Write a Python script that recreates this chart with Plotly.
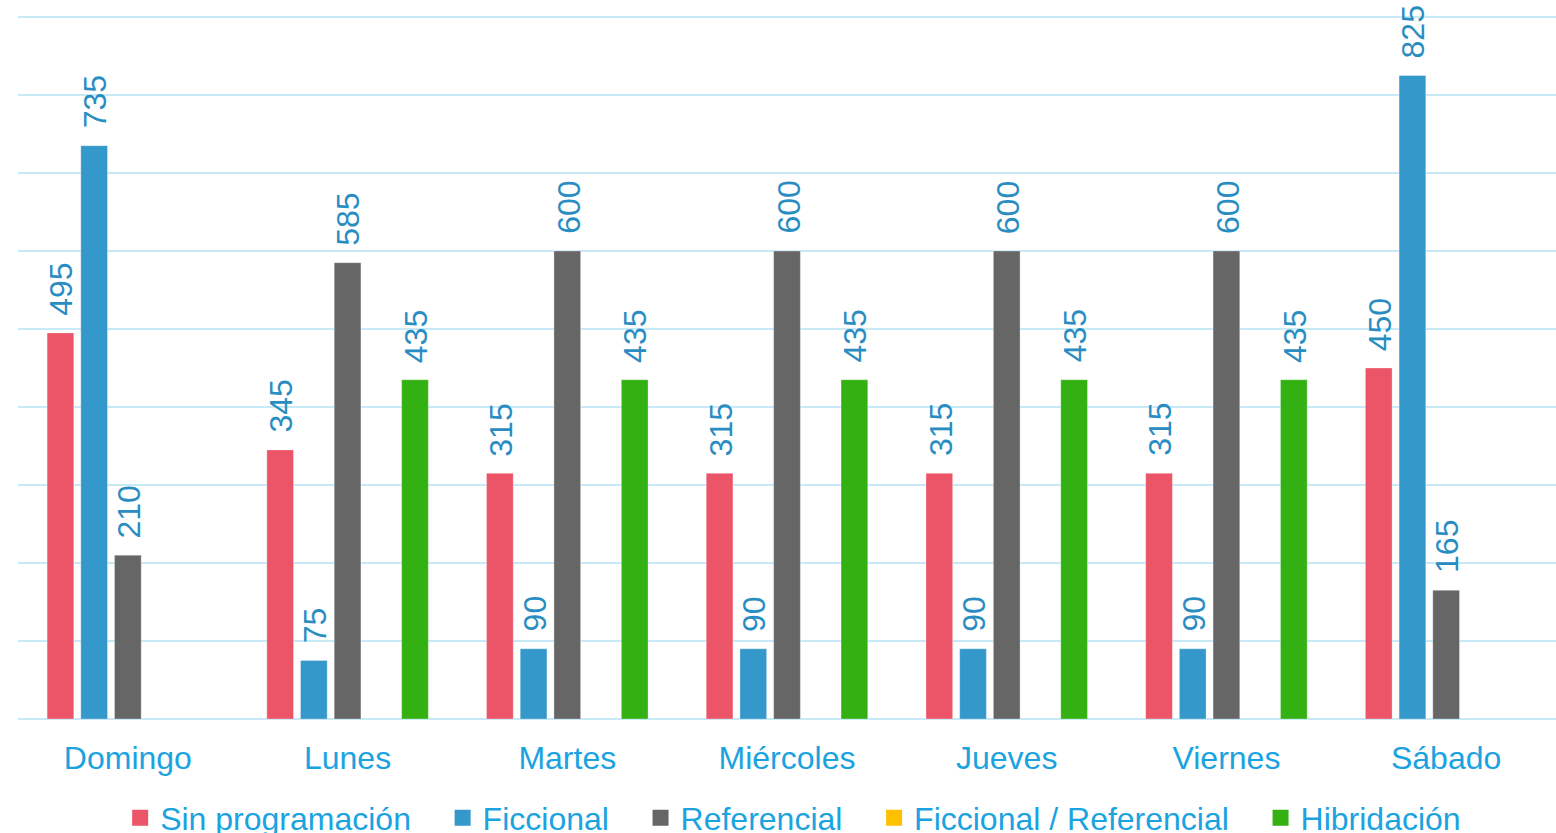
import plotly.graph_objects as go

days = ["Domingo", "Lunes", "Martes", "Miércoles", "Jueves", "Viernes", "Sábado"]
series_names = ["Sin programación", "Ficcional", "Referencial", "Ficcional / Referencial", "Hibridación"]
sin_programacion = [495, 345, 315, 315, 315, 315, 450]
ficcional = [735, 75, 90, 90, 90, 90, 825]
referencial = [210, 585, 600, 600, 600, 600, 165]
ficcional_referencial = [None, None, None, None, None, None, None]
hibridacion = [None, 435, 435, 435, 435, 435, None]

values = [sin_programacion, ficcional, referencial, ficcional_referencial, hibridacion]
colors = ["#EC5568", "#3498CB", "#666666", "#FFC000", "#33B012"]

FONT = "Liberation Sans, Arial, sans-serif"
LABEL_COLOR = "#2A8DC2"
TICK_COLOR = "#1AA3E0"
GRID_COLOR = "#C8EAF8"

W, H = 1556, 833
ML, MR, MT, MB = 18, 0, 9, 114
PX_PER_UNIT = 0.78
Y_TOP = (H - MT - MB) / PX_PER_UNIT
BARGAP, BARGROUPGAP = 0.233, 0.208

fig = go.Figure()
for name, vals, col in zip(series_names, values, colors):
    fig.add_trace(go.Bar(
        x=days, y=vals, name=name,
        marker=dict(color=col, line=dict(width=1, color="rgba(255,255,255,0.3)")),
        showlegend=False,
    ))
for i, name, col in zip(range(len(series_names)), series_names, colors):
    label = name + ("\u00a0\u00a0\u00a0" if i < len(series_names) - 1 else "")
    fig.add_trace(go.Scatter(
        x=[None], y=[None], mode="markers", name=label,
        marker=dict(symbol="square", size=16, color=col),
        showlegend=True,
    ))

# value labels above bars (rotated), shifted to each bar's slot in the group
cat_w = (W - ML - MR) / len(days)
slot = cat_w * (1 - BARGAP) / len(series_names)
n = len(series_names)
for i, vals in enumerate(values):
    for d, v in zip(days, vals):
        if v is None:
            continue
        fig.add_annotation(
            x=d, y=v, xref="x", yref="y", text=str(v), showarrow=False,
            textangle=-90, xanchor="center", yanchor="bottom",
            xshift=(i - (n - 1) / 2) * slot + 1, yshift=15,
            font=dict(family=FONT, size=32, color=LABEL_COLOR),
        )

fig.update_layout(
    width=W, height=H,
    margin=dict(l=ML, r=MR, t=MT, b=MB, autoexpand=False),
    paper_bgcolor="white", plot_bgcolor="white",
    barmode="group", bargap=BARGAP, bargroupgap=BARGROUPGAP,
    font=dict(family=FONT, color=TICK_COLOR),
    showlegend=True,
    legend=dict(orientation="h", x=0.504, xanchor="center", y=-0.141 * 702 / (H - MT - MB),
                yanchor="middle",
                font=dict(family=FONT, size=32, color=TICK_COLOR),
                itemsizing="trace", bgcolor="rgba(0,0,0,0)"),
    xaxis=dict(showgrid=False, ticks="", tickfont=dict(family=FONT, size=32, color=TICK_COLOR),
               showline=False, zeroline=False, ticklabelstandoff=17),
    yaxis=dict(range=[0, Y_TOP], tick0=0, dtick=100, showticklabels=False, ticks="",
               showgrid=True, gridcolor=GRID_COLOR, gridwidth=2,
               zeroline=True, zerolinecolor=GRID_COLOR, zerolinewidth=2, showline=False),
)

fig.write_html("out.html", post_script="document.body.style.margin='0';",
               config={"displayModeBar": False})
